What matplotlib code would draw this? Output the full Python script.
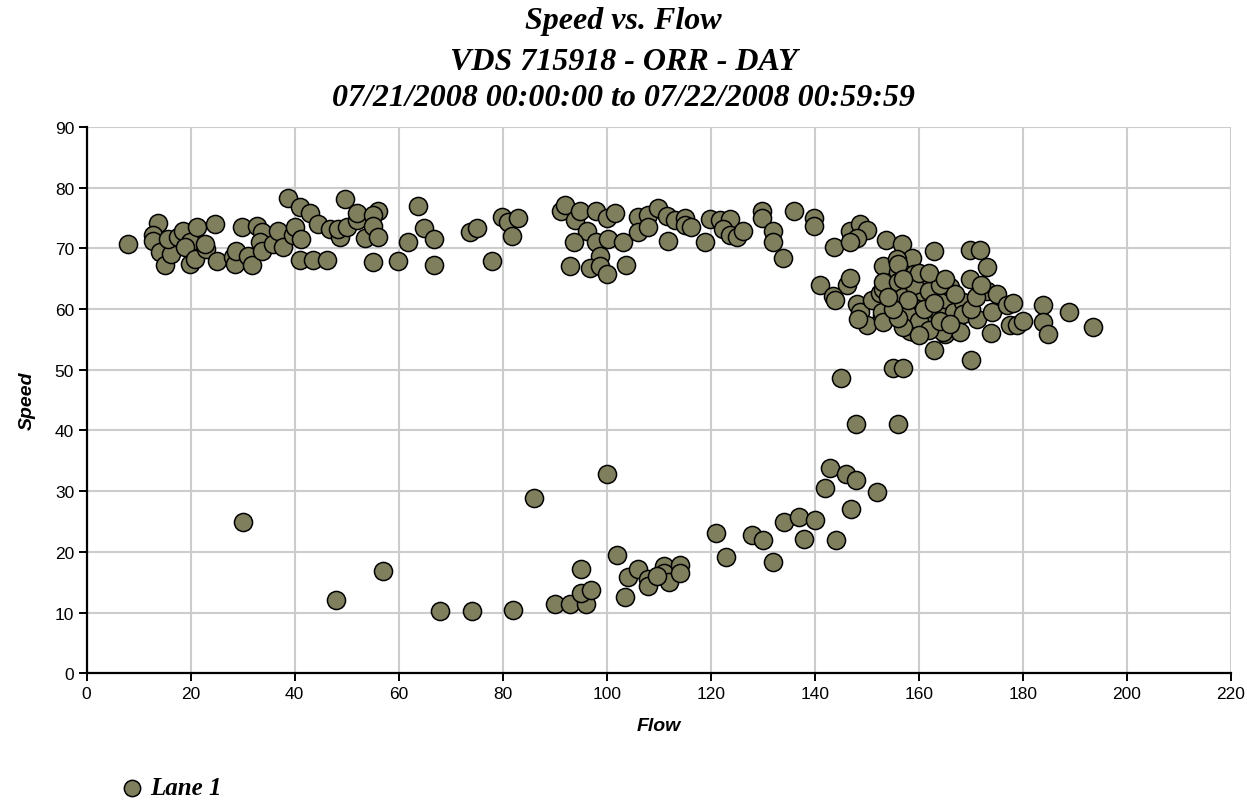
import numpy as np
import matplotlib
matplotlib.use("Agg")
import matplotlib.pyplot as plt

# flow / speed pairs (Lane 1)
flow_low = [30, 48, 57, 68, 74, 82, 86, 100, 90, 93, 96, 95, 97, 95, 102, 104, 103.6,
            106, 108, 108, 111, 111, 112, 114, 114, 109.6, 121, 123, 128, 130, 132, 134,
            137, 138, 140, 142, 143, 144, 146, 148, 147, 152, 148, 156, 155, 157, 145]
speed_low = [25.0, 12.1, 16.8, 10.2, 10.2, 10.5, 28.9, 32.8, 11.4, 11.4, 11.4, 13.2, 13.8,
             17.2, 19.5, 15.9, 12.6, 17.2, 15.6, 14.4, 17.7, 16.5, 15.0, 17.9, 16.6, 16.1,
             23.1, 19.1, 22.8, 22.0, 18.4, 25.0, 25.7, 22.1, 25.3, 30.5, 33.8, 22.0, 32.8,
             31.8, 27.1, 29.8, 41.1, 41.1, 50.3, 50.3, 48.7]

flow_left = [8, 13.7, 12.8, 12.8, 14.1, 15.1, 16.2, 15.7, 17.6, 18.6, 19.9, 18.9, 21.2,
             19.9, 20.8, 22.9, 22.8, 24.7, 25.0, 28.2, 28.5, 28.8, 29.8, 31.1, 31.7, 32.7,
             33.7, 33.3, 33.7, 35.9, 36.8, 37.8, 38.8, 39.7, 40.1, 41.0, 41.0, 41.3, 42.9,
             43.6, 46.2, 44.5, 46.8, 48.7, 48.4, 49.7, 50.0, 51.9, 51.9, 53.5]
speed_left = [70.7, 74.2, 72.2, 71.3, 69.4, 67.3, 69.1, 71.5, 71.8, 72.9, 71.0, 70.2, 73.5,
              67.4, 68.3, 69.9, 70.7, 74.0, 68.0, 68.5, 67.4, 69.6, 73.5, 68.8, 67.3, 73.7,
              72.7, 71.0, 69.6, 70.7, 72.8, 70.2, 78.3, 72.2, 73.5, 76.9, 68.1, 71.5, 75.9,
              68.1, 68.1, 74.0, 73.2, 71.8, 73.2, 78.1, 73.5, 74.6, 75.8, 71.7]

flow_mid = [56.1, 55.1, 55.1, 56.1, 55.1, 59.9, 61.8, 63.8, 64.9, 66.8, 66.8, 73.7, 75.0,
            77.9, 79.8, 81.1, 83.0, 81.8, 91.3, 92.0, 93.9, 94.9, 96.2, 93.7, 92.9, 97.9,
            97.9, 98.7, 96.8, 98.7, 100.0, 100.0, 100.3, 101.6, 103.2, 103.8, 106.1, 106.1,
            108.0, 108.0, 109.9, 111.8, 111.5, 113.1, 115.1, 115.1, 116.3, 118.9, 119.9,
            121.8, 123.7, 122.4, 123.7, 125.0, 126.3, 129.8, 129.8, 131.9, 131.9, 133.8,
            136.1, 139.9, 139.9]
speed_mid = [76.2, 75.5, 73.7, 71.8, 67.7, 68.0, 71.0, 77.0, 73.3, 71.5, 67.3, 72.7, 73.3,
             68.0, 75.1, 74.4, 75.0, 72.1, 76.1, 77.2, 74.6, 76.1, 72.8, 71.0, 67.1, 76.1,
             71.0, 68.8, 66.7, 67.1, 65.8, 75.0, 71.5, 75.8, 71.0, 67.2, 75.1, 72.7, 75.5,
             73.5, 76.6, 71.3, 75.4, 74.6, 75.0, 73.9, 73.5, 71.1, 74.8, 74.7, 74.8, 73.2,
             72.2, 71.8, 72.8, 76.1, 75.0, 72.8, 71.1, 68.4, 76.1, 75.0, 73.7]

flow_right = [143.7, 141.0, 146.8, 148.7, 150.0, 148.1, 146.8, 146.2, 146.8, 153.7, 156.7,
              162.9, 153.1, 158.7, 143.6, 169.9, 171.8, 173.1, 143.9, 148.1, 148.7, 150.0,
              151.0, 152.6, 152.9, 156.1, 155.8, 158.0, 159.0, 157.1, 158.0, 159.0, 159.9,
              160.9, 161.0, 161.5, 163.8, 165.1, 165.1, 166.0, 166.7, 168.6, 168.6, 168.0,
              169.9, 171.2, 173.1, 174.0, 173.9, 175.0, 176.9, 178.2, 177.6, 178.8, 180.1,
              183.9, 183.9, 184.9, 188.8, 193.6, 153.1, 153.1, 152.9, 153.1, 148.4, 156.1,
              156.1, 158.3, 158.3, 164.7, 157, 158, 159, 160, 161, 162, 162, 163, 164, 157,
              160, 162, 164, 166, 167, 170, 171, 172, 165, 157, 158, 156, 155, 154, 160,
              163, 170]
speed_right = [70.3, 63.9, 72.9, 74.0, 73.1, 71.7, 71.0, 63.9, 65.2, 71.4, 70.7, 69.5, 67.1,
               68.4, 62.2, 69.7, 69.7, 67.0, 61.5, 60.9, 59.5, 57.3, 61.5, 62.7, 58.9, 66.1,
               68.3, 63.3, 65.8, 60.6, 57.5, 56.2, 60.6, 62.8, 57.9, 65.5, 59.2, 61.7, 55.9,
               63.6, 59.6, 61.2, 59.2, 56.2, 65.0, 58.4, 63.0, 59.6, 56.1, 62.5, 60.6, 61.0,
               57.3, 57.3, 58.1, 60.7, 57.9, 55.9, 59.6, 57.0, 63.3, 64.4, 59.5, 57.8, 58.4,
               64.4, 67.4, 58.4, 56.4, 56.2, 62.0, 59.0, 64.0, 58.0, 60.0, 63.0, 56.5, 61.0,
               64.0, 57.0, 66.0, 66.0, 58.0, 57.5, 62.5, 60.0, 62.0, 64.0, 65.0, 65.0, 61.5,
               58.5, 60.0, 62.0, 55.8, 53.2, 51.6]

flow = np.array(flow_left + flow_mid + flow_right + flow_low)
speed = np.array(speed_left + speed_mid + speed_right + speed_low)

fig = plt.figure(figsize=(12.47, 8.03), dpi=100)
ax = fig.add_axes([0.0695, 0.1603, 0.9175, 0.6803])

ax.scatter(flow, speed, s=170, c="#7f7f5e", edgecolors="black", linewidths=1.1,
           zorder=3, label="Lane 1", clip_on=False)

ax.set_xlim(0, 220)
ax.set_ylim(0, 90)
ax.set_xticks(np.arange(0, 221, 20))
ax.set_yticks(np.arange(0, 91, 10))
ax.grid(True, color="#cccccc", linewidth=1.5, zorder=0)
ax.set_axisbelow(True)
for s in ["top", "right"]:
    ax.spines[s].set_visible(False)
for s in ["left", "bottom"]:
    ax.spines[s].set_linewidth(1.6)
ax.tick_params(direction="out", length=6, width=1.4, labelsize=12.5, pad=3)
for lab in ax.get_xticklabels() + ax.get_yticklabels():
    lab.set_family("Liberation Sans")

ax.set_xlabel("Flow", fontfamily="Liberation Sans", fontweight="bold", fontstyle="italic",
              fontsize=14, labelpad=12)
ax.set_ylabel("Speed", fontfamily="Liberation Sans", fontweight="bold", fontstyle="italic",
              fontsize=14, labelpad=14)

title_kw = dict(ha="center", va="center", fontfamily="Liberation Serif",
                fontweight="bold", fontstyle="italic", fontsize=23)
fig.text(0.5, 1 - 21 / 803, "Speed vs. Flow", **title_kw)
fig.text(0.5, 1 - 62 / 803, "VDS 715918 - ORR - DAY", **title_kw)
fig.text(0.5, 1 - 99 / 803, "07/21/2008 00:00:00 to 07/22/2008 00:59:59", **title_kw)

leg = fig.legend(loc="center left", bbox_to_anchor=(0.082, 1 - 789 / 803), frameon=False,
                 handletextpad=0.0, borderpad=0, markerscale=0.9, handlelength=1.4,
                 prop=dict(family="Liberation Serif", weight="bold", style="italic", size=18))

fig.savefig("out.png", dpi=100)
